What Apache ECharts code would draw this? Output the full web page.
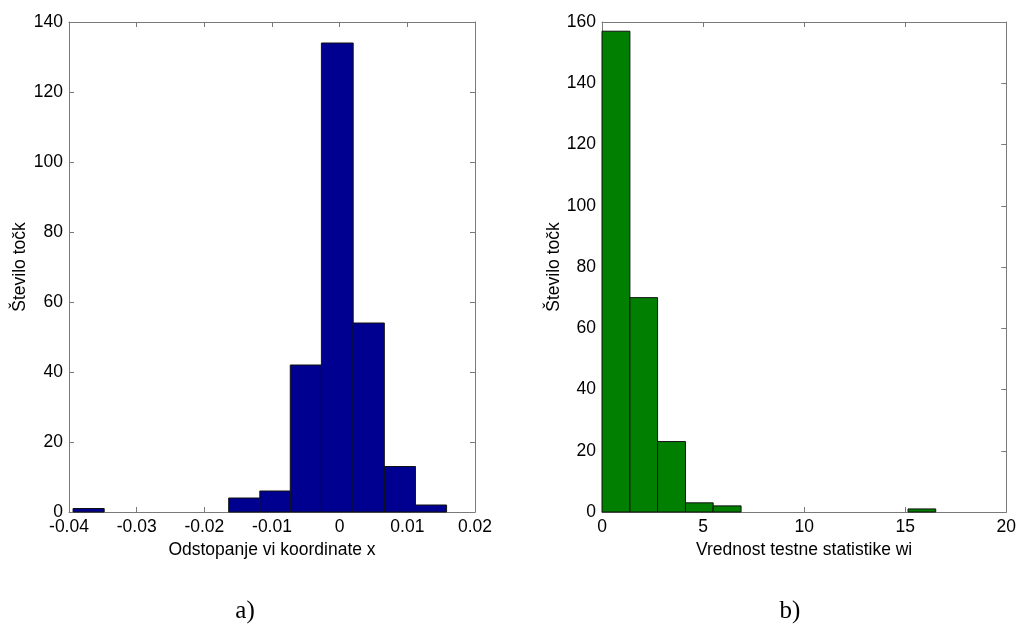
<!DOCTYPE html>
<html>
<head>
<meta charset="utf-8">
<script src="https://cdn.jsdelivr.net/npm/echarts@6/dist/echarts.min.js"></script>
<style>
  html, body { margin: 0; padding: 0; background: #fff; }
  #chart { width: 1019px; height: 624px; }
</style>
</head>
<body>
<div id="chart"></div>
<script>
  // levi histogram: robovi razredov in frekvence
  var edgesA = [-0.0394, -0.0348, -0.0302, -0.0256, -0.0210, -0.0164, -0.0118, -0.0073, -0.0027, 0.0020, 0.0066, 0.0112, 0.0158];
  var countsA = [1, 0, 0, 0, 0, 4, 6, 42, 134, 54, 13, 2];
  // desni histogram
  var edgesB = [0, 1.38, 2.75, 4.13, 5.50, 6.88, 8.26, 9.63, 11.01, 12.38, 13.76, 15.14, 16.51];
  var countsB = [157, 70, 23, 3, 2, 0, 0, 0, 0, 0, 0, 1];

  var xTicksA = [-0.04, -0.03, -0.02, -0.01, 0, 0.01, 0.02];
  var xTicksB = [0, 5, 10, 15, 20];

  var axisColor = '#7a7a7a';
  var font = 'Liberation Sans, Arial, sans-serif';
  var fs = 17.5;

  function bins(edges, counts) {
    return counts.map(function (c, i) { return [edges[i], edges[i + 1], c]; });
  }

  function renderBar(color) {
    return function (params, api) {
      if (!api.value(2)) return null; // prazni razredi se ne vidijo
      var p0 = api.coord([api.value(0), api.value(2)]);
      var p1 = api.coord([api.value(1), 0]);
      return {
        type: 'rect',
        shape: { x: p0[0], y: p0[1], width: p1[0] - p0[0], height: p1[1] - p0[1] },
        style: { fill: color, stroke: '#111', lineWidth: 1 }
      };
    };
  }

  function xAxes(gridIndex, min, max, interval, name) {
    var common = {
      type: 'value', gridIndex: gridIndex, min: min, max: max, interval: interval,
      splitLine: { show: false },
      axisLine: { show: true, onZero: false, lineStyle: { color: axisColor, width: 1 } },
      axisTick: { inside: true, length: 5, lineStyle: { color: axisColor } }
    };
    return [
      Object.assign({}, common, {
        position: 'bottom',
        name: name, nameLocation: 'middle', nameGap: 26,
        nameTextStyle: { fontFamily: font, fontSize: fs, color: '#000', verticalAlign: 'top' },
        axisLabel: {
          fontFamily: font, fontSize: fs, color: '#000', margin: 6,
          formatter: function (v) { return String(+v.toFixed(4)); }
        }
      }),
      Object.assign({}, common, { position: 'top', axisLabel: { show: false } })
    ];
  }

  function yAxes(gridIndex, max, nameGap) {
    var common = {
      type: 'value', gridIndex: gridIndex, min: 0, max: max, interval: 20,
      splitLine: { show: false },
      axisLine: { show: true, onZero: false, lineStyle: { color: axisColor, width: 1 } },
      axisTick: { inside: true, length: 5, lineStyle: { color: axisColor } }
    };
    return [
      Object.assign({}, common, {
        position: 'left',
        name: 'Število točk', nameLocation: 'middle', nameGap: nameGap,
        nameTextStyle: { fontFamily: font, fontSize: fs, color: '#000' },
        axisLabel: { fontFamily: font, fontSize: fs, color: '#000', margin: 6 }
      }),
      Object.assign({}, common, { position: 'right', axisLabel: { show: false } })
    ];
  }

  var chart = echarts.init(document.getElementById('chart'), null, { renderer: 'canvas' });

  chart.setOption({
    backgroundColor: '#fff',
    animation: false,
    grid: [
      { left: 69, top: 22, width: 406, height: 490 },
      { left: 602, top: 22, width: 405, height: 490 }
    ],
    xAxis: [].concat(
      xAxes(0, xTicksA[0], xTicksA[xTicksA.length - 1], 0.01, 'Odstopanje vi koordinate x'),
      xAxes(1, xTicksB[0], xTicksB[xTicksB.length - 1], 5, 'Vrednost testne statistike wi')
    ),
    yAxis: [].concat(yAxes(0, 140, 40), yAxes(1, 160, 39)),
    graphic: [
      { type: 'text', x: 245, y: 611, style: { text: 'a)', fontFamily: 'Liberation Serif, Times New Roman, serif', fontSize: 25, fill: '#000', align: 'center', verticalAlign: 'middle' } },
      { type: 'text', x: 790, y: 611, style: { text: 'b)', fontFamily: 'Liberation Serif, Times New Roman, serif', fontSize: 25, fill: '#000', align: 'center', verticalAlign: 'middle' } }
    ],
    series: [
      {
        type: 'custom', xAxisIndex: 0, yAxisIndex: 0,
        renderItem: renderBar('#000090'),
        encode: { x: [0, 1], y: 2 },
        data: bins(edgesA, countsA)
      },
      {
        type: 'custom', xAxisIndex: 2, yAxisIndex: 2,
        renderItem: renderBar('#007f00'),
        encode: { x: [0, 1], y: 2 },
        data: bins(edgesB, countsB)
      }
    ]
  });
</script>
</body>
</html>
